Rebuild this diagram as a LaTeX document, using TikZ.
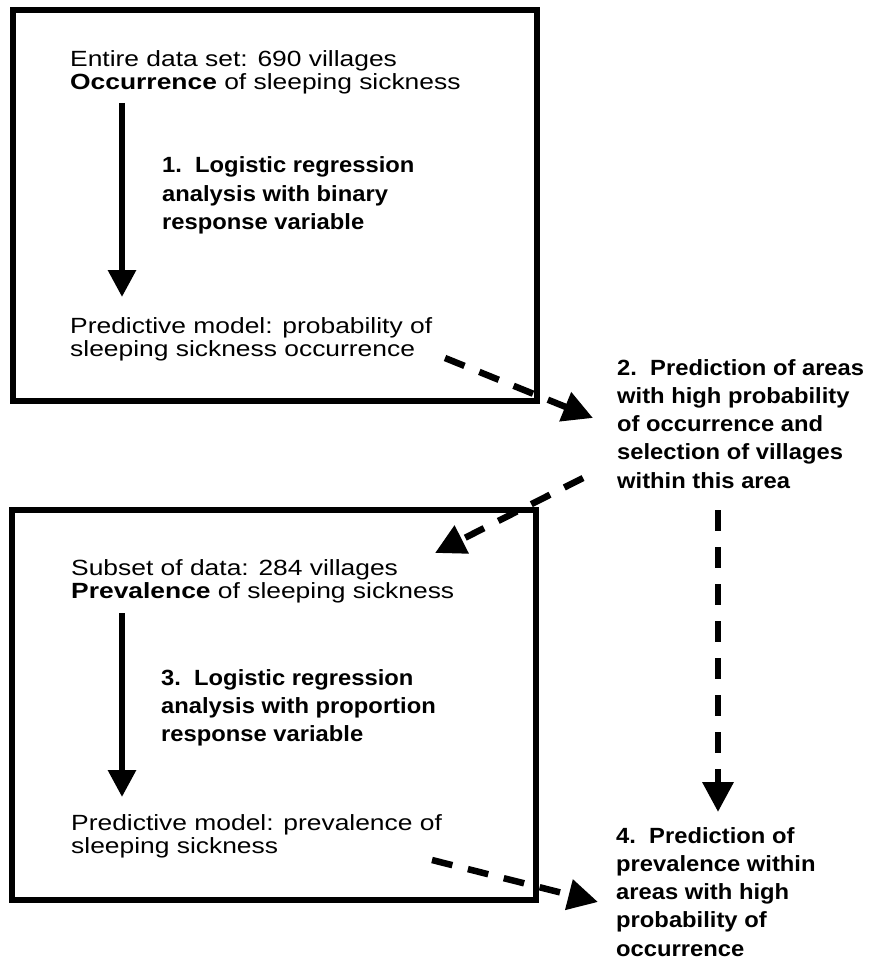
\documentclass[tikz,border=0pt]{standalone}
\usepackage{fontspec}
\setmainfont{Liberation Sans}[FakeStretch=1.2]
\newfontfamily\lblfont{Liberation Sans}[FakeStretch=1.08]
\usetikzlibrary{arrows.meta}
\begin{document}
\begin{tikzpicture}[x=1pt,y=-1pt,
  box/.style={draw, line width=6pt, inner sep=0pt},
  txt/.style={anchor=base west, inner sep=0pt, font=\fontsize{22}{23}\selectfont},
  lbl/.style={anchor=base west, inner sep=0pt, font=\lblfont\bfseries\fontsize{22}{28.3}\selectfont},
  solidarrow/.style={line width=6pt, -{Triangle[width=27pt,length=27pt]}},
  dasharrow/.style={line width=6.5pt, dash pattern=on 21pt off 16pt, -{Triangle[width=30pt,length=30pt]}}
]
\useasboundingbox (0,0) rectangle (868,960);
% boxes
\node[box, minimum width=524pt, minimum height=391pt] (box1) at (274.5,205.5) {};
\node[box, minimum width=524pt, minimum height=390.5pt] (box2) at (274,705) {};
% texts in box 1
\node[txt] (t1) at (70,67) {\begin{tabular}[t]{@{}l@{}}Entire data set: 690 villages\\\textbf{Occurrence} of sleeping sickness\end{tabular}};
\node[lbl] (l1) at (162,173) {\begin{tabular}[t]{@{}l@{}}1.\ \ Logistic regression\\analysis with binary\\response variable\end{tabular}};
\node[txt] (t2) at (70,333) {\begin{tabular}[t]{@{}l@{}}Predictive model: probability of\\sleeping sickness occurrence\end{tabular}};
% label 2
\node[lbl] (l2) at (617,375) {\begin{tabular}[t]{@{}l@{}}2.\ \ Prediction of areas\\with high probability\\of occurrence and\\selection of villages\\within this area\end{tabular}};
% texts in box 2
\node[txt] (t3) at (71,575) {\begin{tabular}[t]{@{}l@{}}Subset of data: 284 villages\\\textbf{Prevalence} of sleeping sickness\end{tabular}};
\node[lbl] (l3) at (161,685) {\begin{tabular}[t]{@{}l@{}}3.\ \ Logistic regression\\analysis with proportion\\response variable\end{tabular}};
\node[txt] (t4) at (71,830) {\begin{tabular}[t]{@{}l@{}}Predictive model: prevalence of\\sleeping sickness\end{tabular}};
% label 4
\node[lbl] (l4) at (616,843) {\begin{tabular}[t]{@{}l@{}}4.\ \ Prediction of\\prevalence within\\areas with high\\probability of\\occurrence\end{tabular}};
% connector end points
\coordinate (a1s) at (122,103);
\coordinate (a1e) at (122,297);
\coordinate (a3s) at (122,613);
\coordinate (a3e) at (122,797);
\coordinate (das) at (445,358);
\coordinate (dae) at (593,418);
\coordinate (dbs) at (583,478);
\coordinate (dbe) at (435,553);
\coordinate (dcs) at (718,510);
\coordinate (dce) at (718,812);
\coordinate (dds) at (432,860);
\coordinate (dde) at (598,902);
% connectors
\draw[solidarrow] (a1s) -- (a1e);
\draw[solidarrow] (a3s) -- (a3e);
\draw[dasharrow] (das) -- (dae);
\draw[dasharrow] (dbs) -- (dbe);
\draw[dasharrow] (dcs) -- (dce);
\draw[dasharrow] (dds) -- (dde);
\end{tikzpicture}
\end{document}
